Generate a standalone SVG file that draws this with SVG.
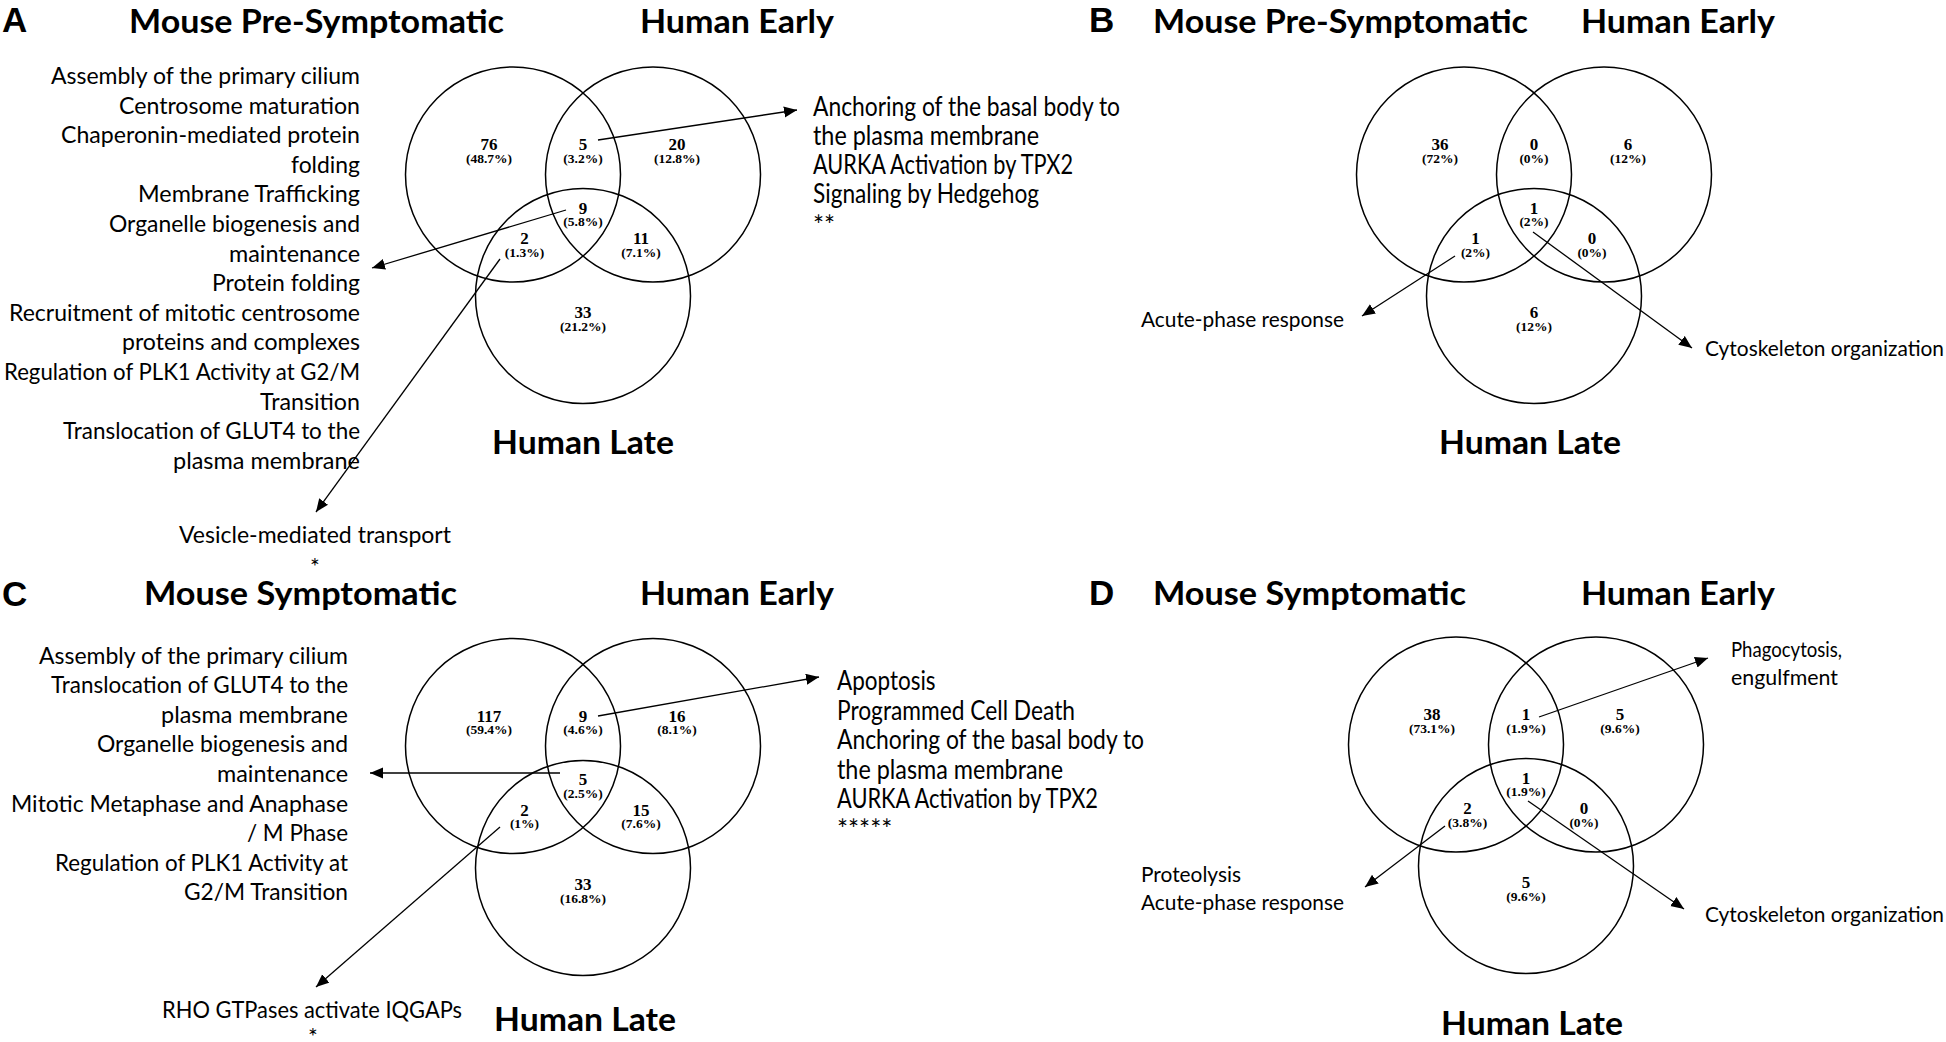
<svg xmlns="http://www.w3.org/2000/svg" width="1946" height="1042" viewBox="0 0 1946 1042">
<style>
.bg{fill:#fff}
.c{fill:none;stroke:#000;stroke-width:1.5}
.ln{fill:none;stroke:#000;stroke-width:1.3}
.pl{font-family:"Liberation Sans",Arial,sans-serif;font-weight:bold;font-size:35px;fill:#000}
.tt{font-family:Lato,"Liberation Sans",sans-serif;font-weight:bold;font-size:33px;fill:#000}
.ls{font-family:Lato,"Liberation Sans",sans-serif;font-size:23px;fill:#000}
.le{font-family:Lato,"Liberation Sans",sans-serif;font-size:23px;fill:#000;text-anchor:end}
.rt{font-family:Lato,"Liberation Sans",sans-serif;font-size:26px;fill:#000}
.st{font-family:Lato,"Liberation Sans",sans-serif;font-size:21px;fill:#000}
.n{font-family:"Liberation Serif","Times New Roman",serif;font-weight:bold;font-size:17px;fill:#000;text-anchor:middle}
.p{font-family:"Liberation Serif","Times New Roman",serif;font-weight:bold;font-size:13.5px;fill:#000;text-anchor:middle}
</style>
<defs>
<marker id="ah" markerUnits="userSpaceOnUse" markerWidth="14" markerHeight="12" refX="13" refY="5.5" orient="auto">
<path d="M0,0 L13,5.5 L0,11 z" fill="#000"/>
</marker>
</defs>
<rect class="bg" x="0" y="0" width="1946" height="1042"/>

<!-- Panel A -->
<g id="panelA-header">
<text class="pl" x="2" y="32">A</text>
<text class="tt" x="129" y="33" textLength="375" lengthAdjust="spacingAndGlyphs">Mouse Pre-Symptomatic</text>
<text class="tt" x="640" y="33" textLength="194" lengthAdjust="spacingAndGlyphs">Human Early</text>
<text class="tt" x="492" y="454" textLength="182" lengthAdjust="spacingAndGlyphs">Human Late</text>
</g>
<g id="A-mouse"><circle class="c" cx="513" cy="174.5" r="107.5"/></g>
<g id="A-early"><circle class="c" cx="653" cy="174.5" r="107.5"/></g>
<g id="A-late"><circle class="c" cx="583" cy="296" r="107.5"/></g>
<g id="A-counts">
<text class="n" x="489" y="150">76</text><text class="p" x="489" y="162.7">(48.7%)</text>
<text class="n" x="583" y="150">5</text><text class="p" x="583" y="162.7">(3.2%)</text>
<text class="n" x="677" y="150">20</text><text class="p" x="677" y="162.7">(12.8%)</text>
<text class="n" x="583" y="213.5">9</text><text class="p" x="583" y="226.2">(5.8%)</text>
<text class="n" x="524.5" y="244">2</text><text class="p" x="524.5" y="256.7">(1.3%)</text>
<text class="n" x="641" y="244">11</text><text class="p" x="641" y="256.7">(7.1%)</text>
<text class="n" x="583" y="318.3">33</text><text class="p" x="583" y="331">(21.2%)</text>
</g>
<g id="A-list-center">
<text class="le" x="360" y="84" textLength="309" lengthAdjust="spacingAndGlyphs">Assembly of the primary cilium</text>
<text class="le" x="360" y="113.6" textLength="241" lengthAdjust="spacingAndGlyphs">Centrosome maturation</text>
<text class="le" x="360" y="143.2" textLength="299" lengthAdjust="spacingAndGlyphs">Chaperonin-mediated protein</text>
<text class="le" x="360" y="172.8" textLength="69" lengthAdjust="spacingAndGlyphs">folding</text>
<text class="le" x="360" y="202.4" textLength="222" lengthAdjust="spacingAndGlyphs">Membrane Trafficking</text>
<text class="le" x="360" y="232" textLength="251" lengthAdjust="spacingAndGlyphs">Organelle biogenesis and</text>
<text class="le" x="360" y="261.6" textLength="131" lengthAdjust="spacingAndGlyphs">maintenance</text>
<text class="le" x="360" y="291.2" textLength="148" lengthAdjust="spacingAndGlyphs">Protein folding</text>
<text class="le" x="360" y="320.8" textLength="351" lengthAdjust="spacingAndGlyphs">Recruitment of mitotic centrosome</text>
<text class="le" x="360" y="350.4" textLength="238" lengthAdjust="spacingAndGlyphs">proteins and complexes</text>
<text class="le" x="360" y="380" textLength="356" lengthAdjust="spacingAndGlyphs">Regulation of PLK1 Activity at G2/M</text>
<text class="le" x="360" y="409.6" textLength="100" lengthAdjust="spacingAndGlyphs">Transition</text>
<text class="le" x="360" y="439.2" textLength="297" lengthAdjust="spacingAndGlyphs">Translocation of GLUT4 to the</text>
<text class="le" x="360" y="468.8" textLength="187" lengthAdjust="spacingAndGlyphs">plasma membrane</text>
</g>
<g id="A-list-LB">
<text class="ls" x="179" y="543" textLength="272" lengthAdjust="spacingAndGlyphs">Vesicle-mediated transport</text>
<text class="ls" x="315" y="575" text-anchor="middle">*</text>
</g>
<g id="A-list-LR">
<text class="rt" x="813" y="116" textLength="307" lengthAdjust="spacingAndGlyphs">Anchoring of the basal body to</text>
<text class="rt" x="813" y="145" textLength="226" lengthAdjust="spacingAndGlyphs">the plasma membrane</text>
<text class="rt" x="813" y="174" textLength="260" lengthAdjust="spacingAndGlyphs">AURKA Activation by TPX2</text>
<text class="rt" x="813" y="203" textLength="226" lengthAdjust="spacingAndGlyphs">Signaling by Hedgehog</text>
<text class="rt" x="813" y="235">**</text>
</g>

<!-- Panel B -->
<g id="panelB-header">
<text class="pl" x="1089" y="32">B</text>
<text class="tt" x="1153" y="33" textLength="375" lengthAdjust="spacingAndGlyphs">Mouse Pre-Symptomatic</text>
<text class="tt" x="1581" y="33" textLength="194" lengthAdjust="spacingAndGlyphs">Human Early</text>
<text class="tt" x="1439" y="454" textLength="182" lengthAdjust="spacingAndGlyphs">Human Late</text>
</g>
<g id="B-mouse"><circle class="c" cx="1464" cy="174.5" r="107.5"/></g>
<g id="B-early"><circle class="c" cx="1604" cy="174.5" r="107.5"/></g>
<g id="B-late"><circle class="c" cx="1534" cy="296" r="107.5"/></g>
<g id="B-counts">
<text class="n" x="1440" y="150">36</text><text class="p" x="1440" y="162.7">(72%)</text>
<text class="n" x="1534" y="150">0</text><text class="p" x="1534" y="162.7">(0%)</text>
<text class="n" x="1628" y="150">6</text><text class="p" x="1628" y="162.7">(12%)</text>
<text class="n" x="1534" y="213.5">1</text><text class="p" x="1534" y="226.2">(2%)</text>
<text class="n" x="1475.5" y="244">1</text><text class="p" x="1475.5" y="256.7">(2%)</text>
<text class="n" x="1592" y="244">0</text><text class="p" x="1592" y="256.7">(0%)</text>
<text class="n" x="1534" y="318.3">6</text><text class="p" x="1534" y="331">(12%)</text>
</g>
<g id="B-list-LB"><text class="st" x="1141" y="327" textLength="203" lengthAdjust="spacingAndGlyphs">Acute-phase response</text></g>
<g id="B-list-center"><text class="st" x="1705" y="356" textLength="239" lengthAdjust="spacingAndGlyphs">Cytoskeleton organization</text></g>

<!-- Panel C -->
<g id="panelC-header">
<text class="pl" x="2" y="606">C</text>
<text class="tt" x="144" y="605" textLength="313" lengthAdjust="spacingAndGlyphs">Mouse Symptomatic</text>
<text class="tt" x="640" y="605" textLength="194" lengthAdjust="spacingAndGlyphs">Human Early</text>
<text class="tt" x="494" y="1031" textLength="182" lengthAdjust="spacingAndGlyphs">Human Late</text>
</g>
<g id="C-mouse"><circle class="c" cx="513" cy="746" r="107.5"/></g>
<g id="C-early"><circle class="c" cx="653" cy="746" r="107.5"/></g>
<g id="C-late"><circle class="c" cx="583" cy="868" r="107.5"/></g>
<g id="C-counts">
<text class="n" x="489" y="721.5">117</text><text class="p" x="489" y="734.2">(59.4%)</text>
<text class="n" x="583" y="721.5">9</text><text class="p" x="583" y="734.2">(4.6%)</text>
<text class="n" x="677" y="721.5">16</text><text class="p" x="677" y="734.2">(8.1%)</text>
<text class="n" x="583" y="785">5</text><text class="p" x="583" y="797.7">(2.5%)</text>
<text class="n" x="524.5" y="815.5">2</text><text class="p" x="524.5" y="828.2">(1%)</text>
<text class="n" x="641" y="815.5">15</text><text class="p" x="641" y="828.2">(7.6%)</text>
<text class="n" x="583" y="890.3">33</text><text class="p" x="583" y="903">(16.8%)</text>
</g>
<g id="C-list-center">
<text class="le" x="348" y="663.5" textLength="309" lengthAdjust="spacingAndGlyphs">Assembly of the primary cilium</text>
<text class="le" x="348" y="693.1" textLength="297" lengthAdjust="spacingAndGlyphs">Translocation of GLUT4 to the</text>
<text class="le" x="348" y="722.7" textLength="187" lengthAdjust="spacingAndGlyphs">plasma membrane</text>
<text class="le" x="348" y="752.3" textLength="251" lengthAdjust="spacingAndGlyphs">Organelle biogenesis and</text>
<text class="le" x="348" y="781.9" textLength="131" lengthAdjust="spacingAndGlyphs">maintenance</text>
<text class="le" x="348" y="811.5" textLength="337" lengthAdjust="spacingAndGlyphs">Mitotic Metaphase and Anaphase</text>
<text class="le" x="348" y="841.1" textLength="101" lengthAdjust="spacingAndGlyphs">/ M Phase</text>
<text class="le" x="348" y="870.7" textLength="293" lengthAdjust="spacingAndGlyphs">Regulation of PLK1 Activity at</text>
<text class="le" x="348" y="900.3" textLength="164" lengthAdjust="spacingAndGlyphs">G2/M Transition</text>
</g>
<g id="C-list-LB">
<text class="ls" x="162" y="1018" textLength="300" lengthAdjust="spacingAndGlyphs">RHO GTPases activate IQGAPs</text>
<text class="ls" x="313" y="1045" text-anchor="middle">*</text>
</g>
<g id="C-list-LR">
<text class="rt" x="837" y="690" textLength="98.5" lengthAdjust="spacingAndGlyphs">Apoptosis</text>
<text class="rt" x="837" y="719.5" textLength="238" lengthAdjust="spacingAndGlyphs">Programmed Cell Death</text>
<text class="rt" x="837" y="749" textLength="307" lengthAdjust="spacingAndGlyphs">Anchoring of the basal body to</text>
<text class="rt" x="837" y="778.5" textLength="226" lengthAdjust="spacingAndGlyphs">the plasma membrane</text>
<text class="rt" x="837" y="808" textLength="261" lengthAdjust="spacingAndGlyphs">AURKA Activation by TPX2</text>
<text class="rt" x="837" y="839">*****</text>
</g>

<!-- Panel D -->
<g id="panelD-header">
<text class="pl" x="1089" y="605">D</text>
<text class="tt" x="1153" y="605" textLength="313" lengthAdjust="spacingAndGlyphs">Mouse Symptomatic</text>
<text class="tt" x="1581" y="605" textLength="194" lengthAdjust="spacingAndGlyphs">Human Early</text>
<text class="tt" x="1441" y="1035" textLength="182" lengthAdjust="spacingAndGlyphs">Human Late</text>
</g>
<g id="D-mouse"><circle class="c" cx="1456" cy="744.5" r="107.5"/></g>
<g id="D-early"><circle class="c" cx="1596" cy="744.5" r="107.5"/></g>
<g id="D-late"><circle class="c" cx="1526" cy="866" r="107.5"/></g>
<g id="D-counts">
<text class="n" x="1432" y="720">38</text><text class="p" x="1432" y="732.7">(73.1%)</text>
<text class="n" x="1526" y="720">1</text><text class="p" x="1526" y="732.7">(1.9%)</text>
<text class="n" x="1620" y="720">5</text><text class="p" x="1620" y="732.7">(9.6%)</text>
<text class="n" x="1526" y="783.5">1</text><text class="p" x="1526" y="796.2">(1.9%)</text>
<text class="n" x="1467.5" y="814">2</text><text class="p" x="1467.5" y="826.7">(3.8%)</text>
<text class="n" x="1584" y="814">0</text><text class="p" x="1584" y="826.7">(0%)</text>
<text class="n" x="1526" y="888.3">5</text><text class="p" x="1526" y="901">(9.6%)</text>
</g>
<g id="D-list-LR">
<text class="st" x="1731" y="657" textLength="111" lengthAdjust="spacingAndGlyphs">Phagocytosis,</text>
<text class="st" x="1731" y="685" textLength="107" lengthAdjust="spacingAndGlyphs">engulfment</text>
</g>
<g id="D-list-LB">
<text class="st" x="1141" y="882" textLength="100" lengthAdjust="spacingAndGlyphs">Proteolysis</text>
<text class="st" x="1141" y="910" textLength="203" lengthAdjust="spacingAndGlyphs">Acute-phase response</text>
</g>
<g id="D-list-center"><text class="st" x="1705" y="922" textLength="239" lengthAdjust="spacingAndGlyphs">Cytoskeleton organization</text></g>

<g id="connectors">
<line class="ln" x1="598" y1="140" x2="797" y2="110" marker-end="url(#ah)"/>
<line class="ln" x1="566" y1="210" x2="372" y2="268" marker-end="url(#ah)"/>
<line class="ln" x1="500" y1="259" x2="316" y2="512" marker-end="url(#ah)"/>
<line class="ln" x1="1455" y1="256" x2="1362" y2="316" marker-end="url(#ah)"/>
<line class="ln" x1="1533" y1="232" x2="1692" y2="348" marker-end="url(#ah)"/>
<line class="ln" x1="560" y1="773" x2="370" y2="773" marker-end="url(#ah)"/>
<line class="ln" x1="500" y1="827" x2="316" y2="987" marker-end="url(#ah)"/>
<line class="ln" x1="598" y1="716" x2="819" y2="677" marker-end="url(#ah)"/>
<line class="ln" x1="1539" y1="717" x2="1708" y2="658" marker-end="url(#ah)"/>
<line class="ln" x1="1528" y1="801" x2="1684" y2="909" marker-end="url(#ah)"/>
<line class="ln" x1="1445" y1="826" x2="1365" y2="887" marker-end="url(#ah)"/>
</g>
</svg>
